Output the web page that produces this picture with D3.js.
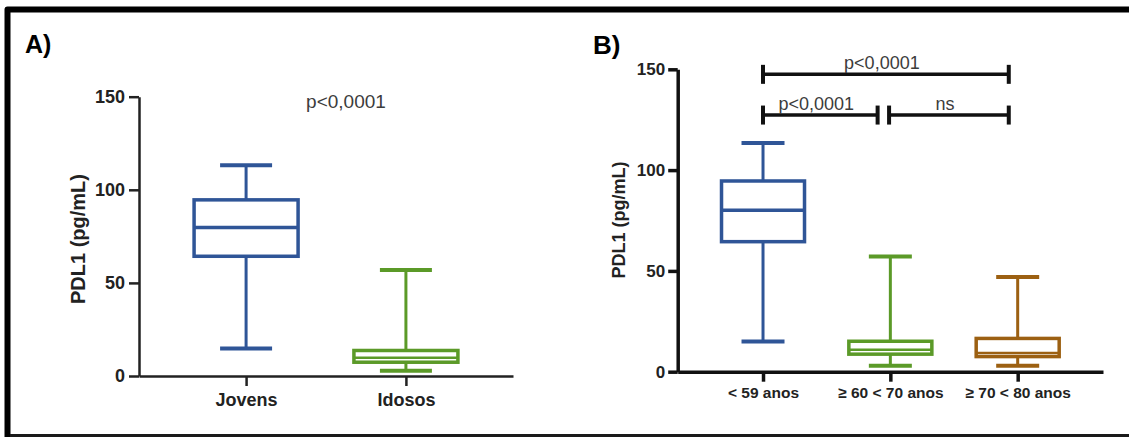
<!DOCTYPE html>
<html lang='pt'>
    <head>
        <meta charset="utf-8">
        <script src="https://d3js.org/d3.v7.min.js"></script>
        <style>
            *{
                margin:0;
                padding:0
            }
            body{
                width:1129px;
                height:437px;
                background-color:white;
                overflow:hidden;
            }
            svg{
                font-family:"Liberation Sans",Arial,sans-serif;
            }
            .axis text{
                font-weight:bold;
                fill:#222;
            }
            .pval{
                fill:#3c3c3c;
            }
        </style>
    </head>
    <body>
        <script>
            // painel A
            const groupsA=['Jovens','Idosos'];
            const minA=[14.8,2.8];
            const q1A=[64.3,7.4];
            const medA=[79.8,9.8];
            const q3A=[94.6,13.7];
            const maxA=[113.2,56.9];
            const colorsA=['#2f5597','#5b9a28'];

            // painel B
            const groupsB=['< 59 anos','\u2265 60 < 70 anos','\u2265 70 < 80 anos'];
            const minB=[15.0,2.9,2.9];
            const q1B=[64.5,8.7,7.5];
            const medB=[80.1,10.9,9.3];
            const q3B=[94.6,15.1,16.5];
            const maxB=[113.5,57.2,47.0];
            const colorsB=['#2f5597','#5b9a28','#9c6012'];

            // comparacoes (indices de grupo) no painel B
            const bracketFrom=[0,0,0.99];
            const bracketTo=[1.93,0.9,1.93];
            const bracketLevel=[147.5,127.3,127.3];
            const bracketLabel=['p<0,0001','p<0,0001','ns'];

            const yTicks=[0,50,100,150];

            const svg=d3.select('body').append('svg')
                        .attr('width',1129)
                        .attr('height',437);

            // moldura
            svg.append('path')
               .attr('d','M7.5,437V9.5H1129')
               .attr('fill','none')
               .attr('stroke','#000')
               .attr('stroke-width',6)
               .attr('stroke-linejoin','round');
            svg.append('line')
               .attr('x1',10).attr('x2',1129)
               .attr('y1',435.5).attr('y2',435.5)
               .attr('stroke','#1a1a1a')
               .attr('stroke-width',3);

            const boxplot=(g,cfg)=>{
                const {groups,mins,q1s,meds,q3s,maxs,colors,x,y,boxW,capW}=cfg;
                const data=groups.map((k,i)=>({k,min:mins[i],q1:q1s[i],med:meds[i],q3:q3s[i],max:maxs[i],c:colors[i]}));
                const b=g.selectAll('g.box').data(data).enter().append('g').attr('class','box');
                b.append('line')
                 .attr('x1',d=>x(d.k)).attr('x2',d=>x(d.k))
                 .attr('y1',d=>y(d.max)).attr('y2',d=>y(d.q3))
                 .attr('stroke',d=>d.c).attr('stroke-width',3);
                b.append('line')
                 .attr('x1',d=>x(d.k)).attr('x2',d=>x(d.k))
                 .attr('y1',d=>y(d.q1)).attr('y2',d=>y(d.min))
                 .attr('stroke',d=>d.c).attr('stroke-width',3);
                ['min','max'].forEach(key=>{
                    b.append('line')
                     .attr('x1',d=>x(d.k)-capW/2).attr('x2',d=>x(d.k)+capW/2)
                     .attr('y1',d=>y(d[key])).attr('y2',d=>y(d[key]))
                     .attr('stroke',d=>d.c).attr('stroke-width',4);
                });
                b.append('rect')
                 .attr('x',d=>x(d.k)-boxW/2)
                 .attr('width',boxW)
                 .attr('y',d=>y(d.q3))
                 .attr('height',d=>y(d.q1)-y(d.q3))
                 .attr('fill','white')
                 .attr('stroke',d=>d.c).attr('stroke-width',3.5);
                b.append('line')
                 .attr('x1',d=>x(d.k)-boxW/2).attr('x2',d=>x(d.k)+boxW/2)
                 .attr('y1',d=>y(d.med)).attr('y2',d=>y(d.med))
                 .attr('stroke',d=>d.c)
                 .attr('stroke-width',d=>y(d.q1)-y(d.q3)>30?3.5:2.5);
            }

            // ---------- A ----------
            const xA=d3.scalePoint().domain(groupsA).range([139,513]).padding(0.67);
            const yA=d3.scaleLinear().domain([0,150]).range([376,96.7]);
            const gA=svg.append('g');

            gA.append('text')
              .attr('x',25).attr('y',53)
              .attr('font-size',25).attr('font-weight','bold')
              .text('A)');

            gA.append('g')
              .attr('class','axis')
              .attr('transform','translate(139,0)')
              .call(d3.axisLeft(yA).tickValues(yTicks).tickSize(10).tickSizeOuter(0).tickPadding(4))
              .call(g=>g.selectAll('path,line').attr('stroke','#222').attr('stroke-width',2.5))
              .call(g=>g.selectAll('text').attr('font-size',18));

            gA.append('g')
              .attr('class','axis')
              .attr('transform','translate(0,376)')
              .call(d3.axisBottom(xA).tickSize(10).tickSizeOuter(0).tickPadding(7))
              .call(g=>g.selectAll('path,line').attr('stroke','#222').attr('stroke-width',2.5))
              .call(g=>g.selectAll('text').attr('font-size',18));

            gA.append('text')
              .attr('transform','translate(77.5,239) rotate(-90)')
              .attr('text-anchor','middle')
              .attr('dominant-baseline','central')
              .attr('font-size',20).attr('font-weight','bold')
              .attr('fill','#222')
              .text('PDL1 (pg/mL)');

            boxplot(gA,{groups:groupsA,mins:minA,q1s:q1A,meds:medA,q3s:q3A,maxs:maxA,colors:colorsA,
                        x:xA,y:yA,boxW:104,capW:52});

            gA.append('text')
              .attr('class','pval')
              .attr('x',d3.mean(groupsA,k=>xA(k))+20)
              .attr('y',yA(144))
              .attr('text-anchor','middle')
              .attr('font-size',19)
              .text('p<0,0001');

            // ---------- B ----------
            const xB=d3.scalePoint().domain(groupsB).range([677.7,1103]).padding(0.67);
            const yB=d3.scaleLinear().domain([0,150]).range([371.7,69.3]);
            const xIdx=d3.scaleLinear().domain([0,groupsB.length-1]).range([xB(groupsB[0]),xB(groupsB[groupsB.length-1])]);
            const gB=svg.append('g');

            gB.append('text')
              .attr('x',593).attr('y',54)
              .attr('font-size',26).attr('font-weight','bold')
              .text('B)');

            gB.append('g')
              .attr('class','axis')
              .attr('transform','translate(677.7,0)')
              .call(d3.axisLeft(yB).tickValues(yTicks).tickSize(9.5).tickSizeOuter(0).tickPadding(3))
              .call(g=>g.selectAll('path,line').attr('stroke','#111').attr('stroke-width',3.5))
              .call(g=>g.selectAll('text').attr('font-size',17));

            gB.append('g')
              .attr('class','axis')
              .attr('transform','translate(0,371.7)')
              .call(d3.axisBottom(xB).tickSize(10).tickSizeOuter(0).tickPadding(5))
              .call(g=>g.selectAll('path,line').attr('stroke','#111').attr('stroke-width',3.5))
              .call(g=>g.selectAll('text').attr('font-size',15.5));

            gB.append('text')
              .attr('transform','translate(619,220) rotate(-90)')
              .attr('text-anchor','middle')
              .attr('dominant-baseline','central')
              .attr('font-size',18).attr('font-weight','bold')
              .attr('fill','#222')
              .text('PDL1 (pg/mL)');

            boxplot(gB,{groups:groupsB,mins:minB,q1s:q1B,meds:medB,q3s:q3B,maxs:maxB,colors:colorsB,
                        x:xB,y:yB,boxW:83,capW:43});

            const br=gB.selectAll('g.bracket')
                       .data(bracketLabel.map((t,i)=>({t,a:bracketFrom[i],b:bracketTo[i],v:bracketLevel[i]})))
                       .enter().append('g').attr('class','bracket');
            br.append('line')
              .attr('x1',d=>xIdx(d.a)).attr('x2',d=>xIdx(d.b))
              .attr('y1',d=>yB(d.v)).attr('y2',d=>yB(d.v))
              .attr('stroke','#111').attr('stroke-width',3.5);
            ['a','b'].forEach(key=>{
                br.append('line')
                  .attr('x1',d=>xIdx(d[key])).attr('x2',d=>xIdx(d[key]))
                  .attr('y1',d=>yB(d.v)-9.5).attr('y2',d=>yB(d.v)+9.5)
                  .attr('stroke','#111').attr('stroke-width',4);
            });
            br.append('text')
              .attr('class','pval')
              .attr('x',d=>(xIdx(d.a)+xIdx(d.b))/2-4)
              .attr('y',d=>yB(d.v)-5)
              .attr('text-anchor','middle')
              .attr('font-size',18)
              .text(d=>d.t);
        </script>
    </body>
</html>
